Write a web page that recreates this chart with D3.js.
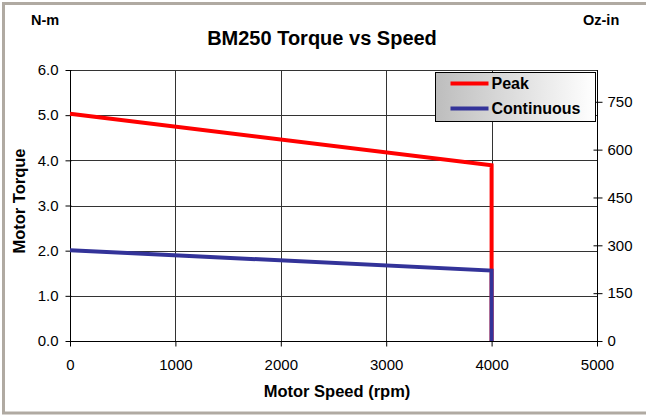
<!DOCTYPE html>
<html><head><meta charset="utf-8">
<script src="https://cdn.jsdelivr.net/npm/d3@7/dist/d3.min.js"></script>
<style>body{margin:0;background:#fff}svg{display:block;font-family:"Liberation Sans",Arial,sans-serif}</style>
</head><body>
<svg id="c" width="646" height="416"></svg>
<script>
const speedTicks = [0,1000,2000,3000,4000,5000];
const torqueTicks = [0,1,2,3,4,5,6];
const ozTicks = [0,150,300,450,600,750];
const peakSpeed = [0,4000,4000];
const peakTorque = [5.03,3.89,0];
const contSpeed = [0,4000,4000];
const contTorque = [2.01,1.56,0];
const seriesNames = ["Peak","Continuous"];
const seriesColors = ["#ff0000","#333399"];

const svg = d3.select("#c");
const L=70,R=597,T=70,B=341;
const x = d3.scaleLinear().domain([0,5000]).range([L,R]);
const y = d3.scaleLinear().domain([0,6]).range([B,T]);
const y2 = d3.scaleLinear().domain([0,6*141.612]).range([B,T]);
const FF = "Liberation Sans, Arial, sans-serif";

// frame
svg.append("rect").attr("x",3.5).attr("y",3.5).attr("width",660).attr("height",409.5)
  .attr("fill","#fff").attr("stroke","#b0aaa2").attr("stroke-width",3);

// grid
svg.append("g").selectAll("line").data(torqueTicks.slice(1)).join("line")
  .attr("x1",L).attr("x2",R).attr("y1",d=>Math.round(y(d))+0.5).attr("y2",d=>Math.round(y(d))+0.5)
  .attr("stroke","#333").attr("stroke-width",1);
svg.append("g").selectAll("line").data(speedTicks.slice(1,5)).join("line")
  .attr("y1",T).attr("y2",B).attr("x1",d=>Math.round(x(d))+0.5).attr("x2",d=>Math.round(x(d))+0.5)
  .attr("stroke","#333").attr("stroke-width",1);

// axes
const ax = svg.append("g").attr("transform",`translate(0,${B+0.5})`)
  .call(d3.axisBottom(x).tickValues(speedTicks).tickSize(5).tickPadding(13).tickFormat(d3.format("d")));
const ayl = svg.append("g").attr("transform",`translate(${L+0.5},0)`)
  .call(d3.axisLeft(y).tickValues(torqueTicks).tickSize(5).tickPadding(7).tickFormat(d3.format(".1f")));
const ayr = svg.append("g").attr("transform",`translate(${R+0.5},0)`)
  .call(d3.axisRight(y2).tickValues(ozTicks).tickSize(5).tickPadding(5).tickFormat(d3.format("d")));
ayr.selectAll(".tick line").attr("x1",-4);
ayl.selectAll(".tick line").attr("x2",-5).attr("x1",1);
[ax,ayl,ayr].forEach(g=>{
  g.select(".domain").remove();
  g.selectAll("text").attr("font-size",15).attr("fill","#000").attr("font-family",FF);
  g.selectAll(".tick line").attr("stroke","#000");
});
svg.append("line").attr("x1",L).attr("x2",R+0.5).attr("y1",B+0.5).attr("y2",B+0.5).attr("stroke","#000");
svg.append("line").attr("x1",L+0.5).attr("x2",L+0.5).attr("y1",T).attr("y2",B).attr("stroke","#000");
svg.append("line").attr("x1",R+0.5).attr("x2",R+0.5).attr("y1",T).attr("y2",B+0.5).attr("stroke","#000");

// lines
const line = d3.line().x(d=>x(d[0])).y(d=>y(d[1]));
const data = [d3.zip(peakSpeed,peakTorque), d3.zip(contSpeed,contTorque)];
svg.append("g").selectAll("path").data(data).join("path")
  .attr("d",line).attr("fill","none").attr("stroke",(d,i)=>seriesColors[i]).attr("stroke-width",4);

// legend
const defs = svg.append("defs");
const gr = defs.append("linearGradient").attr("id","lg").attr("x1","0").attr("x2","1");
gr.append("stop").attr("offset","0").attr("stop-color","#bdbdbd");
gr.append("stop").attr("offset","1").attr("stop-color","#ffffff");
const lg = svg.append("g").attr("transform","translate(435.5,72.5)");
lg.append("rect").attr("width",160).attr("height",49).attr("fill","url(#lg)").attr("stroke","#000");
seriesNames.forEach((n,i)=>{
  lg.append("line").attr("x1",15).attr("x2",53).attr("y1",11+i*25).attr("y2",11+i*25)
    .attr("stroke",seriesColors[i]).attr("stroke-width",4);
  lg.append("text").attr("x",56).attr("y",16.5+i*25).text(n).attr("font-size",16).attr("font-weight","bold");
});

// titles
svg.append("text").attr("x",322).attr("y",45).attr("text-anchor","middle").attr("font-size",20).attr("font-weight","bold").text("BM250 Torque vs Speed");
svg.append("text").attr("x",31).attr("y",25).attr("font-size",14.5).attr("font-weight","bold").text("N-m");
svg.append("text").attr("x",583).attr("y",25).attr("font-size",14.5).attr("font-weight","bold").text("Oz-in");
svg.append("text").attr("x",337).attr("y",397).attr("text-anchor","middle").attr("font-size",16.5).attr("font-weight","bold").text("Motor Speed (rpm)");
svg.append("text").attr("transform","translate(25,201) rotate(-90)").attr("text-anchor","middle").attr("font-size",16.5).attr("font-weight","bold").text("Motor Torque");
</script>
</body></html>
